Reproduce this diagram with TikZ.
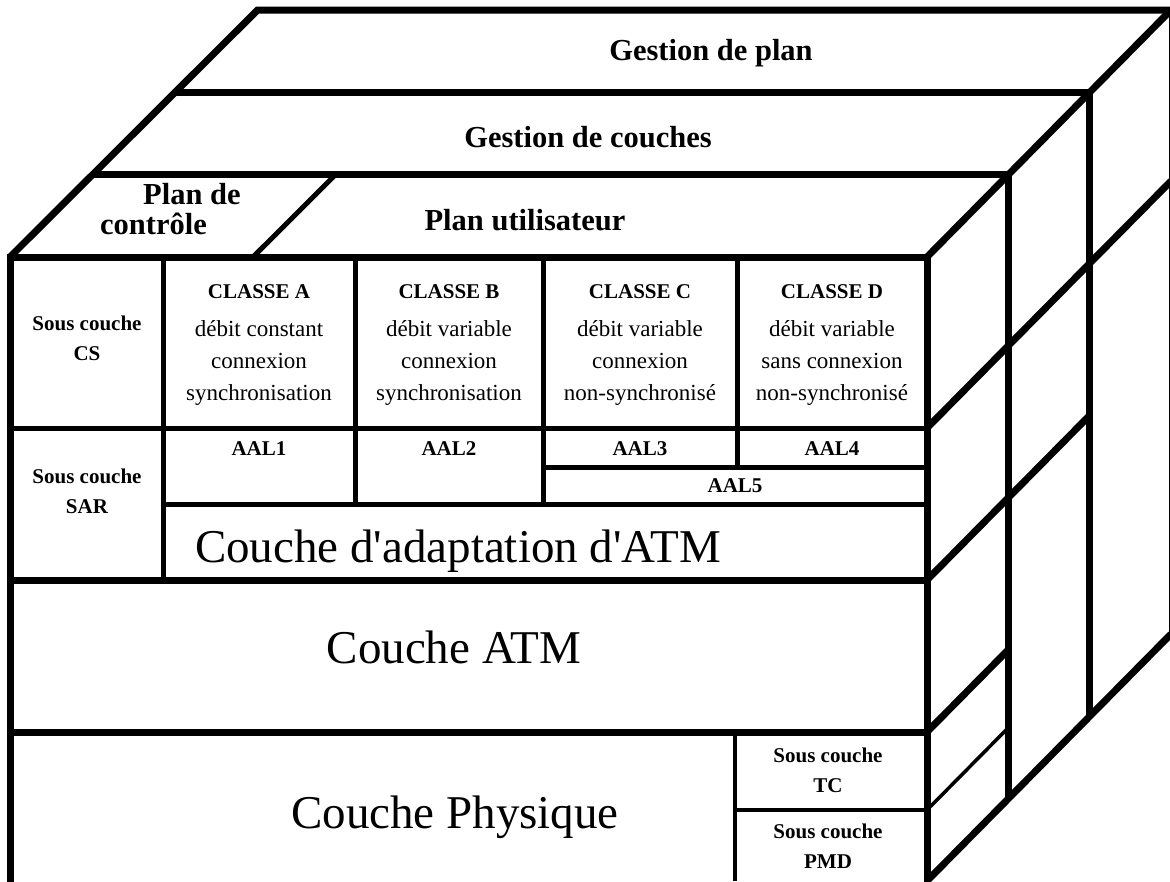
\documentclass[tikz,border=0pt]{standalone}
\usepackage{fontspec}
\setmainfont{Liberation Serif}

\begin{document}
\begin{tikzpicture}[x=1pt,y=-1pt,line join=miter,
  fort/.style={line width=7pt},
  moyen/.style={line width=5pt},
  fin/.style={line width=3.5pt},
  titre/.style={font=\bfseries\fontsize{30.5}{30}\selectfont,inner sep=0pt},
  petit/.style={font=\bfseries\fontsize{21}{30}\selectfont,align=center,inner sep=0pt},
  texte/.style={font=\fontsize{23}{32}\selectfont,align=center,inner sep=0pt},
  grand/.style={font=\fontsize{47}{47}\selectfont,inner sep=0pt}]
 \clip (0,0) rectangle (1170,881);
 \fill[white] (0,0) rectangle (1170,881);

 \coordinate (FL) at (10,257); %前面 左上
 \coordinate (FR) at (927,257); %前面 右上
 \coordinate (BL) at (257.6,10); %奥 左上
 \coordinate (BR) at (1171,10); %奥 右上
 \coordinate (FB) at (927,881); %前面 右下

 %上面
 \draw[fort] (10,885)--(FL)--(FR)--(927,885); %前面の枠
 \draw[fort] (FL)--(BL)--(BR); %奥の枠
 \draw[fin] (BR)--(1171,634); %奥の右端
 \draw[fort] (FR)--(BR);
 \draw[fort] (93,174.7)--(1008.3,174.7)--(1008.3,798.7);
 \draw[fort] (175.3,92.4)--(1089.6,92.4)--(1089.6,716.4);
 \draw[moyen] (253,257)--(335.5,174.7); %制御プレーン

 %右側面
 \draw[fort] (FB)--(1171,634);
 \draw[fort] (927,428)--(1171,181);
 \draw[fort] (927,580)--(1089.6,415.4);
 \draw[fort] (927,732)--(1008.3,649.7);
 \draw[fin] (927,810)--(1008.3,727.7);

 %前面
 \draw[moyen] (10,428)--(927,428);
 \draw[moyen] (543,467)--(927,467);
 \draw[moyen] (163,504)--(927,504);
 \draw[fort] (10,580)--(927,580);
 \draw[fort] (10,732)--(927,732);
 \draw[fin] (735,810)--(927,810);
 \draw[moyen] (163,257)--(163,580);
 \draw[moyen] (355,257)--(355,504);
 \draw[moyen] (543,257)--(543,504);
 \draw[moyen] (737,257)--(737,467);
 \draw[fin] (735,732)--(735,881);

 \node[titre,anchor=base] (gplan) at (711,60) {Gestion de plan};
 \node[titre,anchor=base] (gcouche) at (588,147) {Gestion de couches};
 \node[titre,anchor=base] (putil) at (525,230) {Plan utilisateur};
 \node[titre,align=left,anchor=north west] (pctrl) at (100,183) {\hspace*{43pt}Plan de\\contrôle};

 \node[petit] (scs) at (87,338) {Sous couche\\CS};
 \node[petit] (ssar) at (87,491) {Sous couche\\SAR};
 \node[texte] (ca) at (259,345) {{\bfseries\fontsize{21}{30}\selectfont CLASSE A}\\[6pt]débit constant\\connexion\\synchronisation};
 \node[texte] (cb) at (449,345) {{\bfseries\fontsize{21}{30}\selectfont CLASSE B}\\[6pt]débit variable\\connexion\\synchronisation};
 \node[texte] (cc) at (640,345) {{\bfseries\fontsize{21}{30}\selectfont CLASSE C}\\[6pt]débit variable\\connexion\\non-synchronisé};
 \node[texte] (cd) at (832,345) {{\bfseries\fontsize{21}{30}\selectfont CLASSE D}\\[6pt]débit variable\\sans connexion\\non-synchronisé};

 \node[petit] (aal1) at (259,449) {AAL1};
 \node[petit] (aal2) at (449,449) {AAL2};
 \node[petit] (aal3) at (640,449) {AAL3};
 \node[petit] (aal4) at (832,449) {AAL4};
 \node[petit] (aal5) at (735,486) {AAL5};

 \node[grand,anchor=base] (adapt) at (458,562) {Couche d\textquotesingle adaptation d\textquotesingle ATM};
 \node[grand,anchor=base] (atm) at (454,663) {Couche ATM};
 \node[grand,anchor=base] (phys) at (455,828) {Couche Physique};

 \node[petit] (stc) at (828,770) {Sous couche\\TC};
 \node[petit] (spmd) at (828,846) {Sous couche\\PMD};
\end{tikzpicture}
\end{document}
